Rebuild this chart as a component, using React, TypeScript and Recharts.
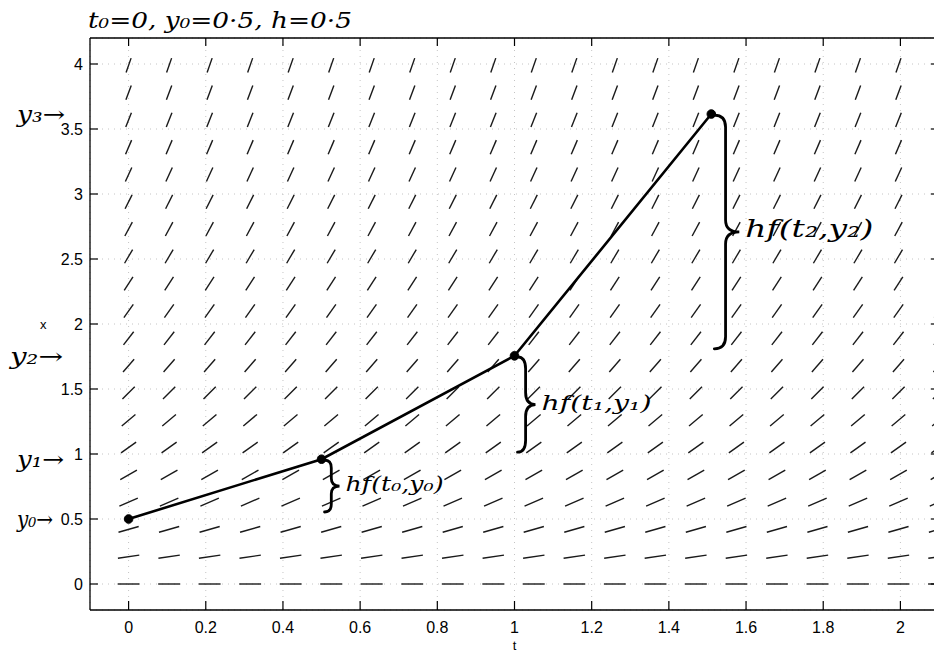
import {
  ComposedChart,
  Line,
  XAxis,
  YAxis,
  CartesianGrid,
  ReferenceLine,
} from "recharts";

// direction field grid
const gridT = [0, 0.105, 0.21, 0.315, 0.42, 0.525, 0.63, 0.735, 0.84, 0.945, 1.05, 1.155, 1.26, 1.365, 1.47, 1.575, 1.68, 1.785, 1.89, 1.995, 2.1];
const gridY = [0, 0.21, 0.42, 0.63, 0.84, 1.05, 1.26, 1.47, 1.68, 1.89, 2.1, 2.31, 2.52, 2.73, 2.94, 3.15, 3.36, 3.57, 3.78, 3.99];
// slope of the little segments in each row (same across a row)
const rowSlopes = [0, 0.43, 0.84, 1.27, 1.7, 2.1, 2.5, 2.95, 3.4, 3.8, 4.2, 4.6, 5.05, 5.5, 5.95, 6.5, 6.95, 7.45, 7.95, 8.5];

// Euler steps as drawn by hand
const eulerT = [0, 0.5, 1.0, 1.51];
const eulerY = [0.5, 0.96, 1.755, 3.615];

const xTicks = [0, 0.2, 0.4, 0.6, 0.8, 1, 1.2, 1.4, 1.6, 1.8, 2];
const yTicks = [0, 0.5, 1, 1.5, 2, 2.5, 3, 3.5, 4];

const stepLabels = ["hf(t₀,y₀)", "hf(t₁,y₁)", "hf(t₂,y₂)"];
const yLabels = ["y₀→", "y₁→", "y₂→", "y₃→"];
const title = "t₀=0, y₀=0·5, h=0·5";

const W = 950;
const H = 652;
const LEFT = 90;
const TOP = 38;
const PLOT_W = 849;
const PLOT_H = 572;
const T_MIN = -0.1;
const T_MAX = 2.1;
const Y_MIN = -0.2;
const Y_MAX = 4.2;

const tickFont = "'Liberation Sans', Arial, Helvetica, sans-serif";
const handFont = "'DejaVu Serif', serif";

const eulerData = eulerT.map((t, i) => ({ t, y: eulerY[i] }));

// segments normalised in grid-cell units, like dfield does
const cellT = gridT[1] - gridT[0];
const cellY = gridY[1] - gridY[0];
const HALF = 0.27;
const segments: { x1: number; y1: number; x2: number; y2: number }[] = [];
gridY.forEach((y, r) => {
  const s = rowSlopes[r];
  const u = 1 / cellT;
  const v = s / cellY;
  const n = Math.sqrt(u * u + v * v);
  const dt = (HALF * u * cellT) / n;
  const dy = (HALF * v * cellY) / n;
  gridT.forEach((t) => {
    segments.push({ x1: t - dt, y1: y - dy, x2: t + dt, y2: y + dy });
  });
});

const px = (t: number) => LEFT + ((t - T_MIN) / (T_MAX - T_MIN)) * PLOT_W;
const py = (y: number) => TOP + ((Y_MAX - y) / (Y_MAX - Y_MIN)) * PLOT_H;

const bracePath = (x0: number, yT: number, yB: number, w: number) => {
  const xs = x0 + w * 0.45;
  const ym = (yT + yB) / 2;
  const r = Math.min(12, (yB - yT) * 0.15);
  return `M${x0},${yT} Q${xs},${yT} ${xs},${yT + r} L${xs},${ym - r} Q${xs},${ym} ${x0 + w},${ym} Q${xs},${ym} ${xs},${ym + r} L${xs},${yB - r} Q${xs},${yB} ${x0},${yB}`;
};

const BottomTick = (props: any) => {
  const { x, y, payload } = props;
  return (
    <g>
      <line x1={x} y1={y} x2={x} y2={y - 9} stroke="#000" strokeWidth={1.2} />
      <text x={x} y={y + 23} textAnchor="middle" fontSize={16} fill="#000" fontFamily={tickFont}>
        {payload.value}
      </text>
    </g>
  );
};

const LeftTick = (props: any) => {
  const { x, y, payload } = props;
  return (
    <g>
      <line x1={x} y1={y} x2={x + 8} y2={y} stroke="#000" strokeWidth={1.2} />
      <text x={x - 7} y={y + 6} textAnchor="end" fontSize={16} fill="#000" fontFamily={tickFont}>
        {payload.value}
      </text>
    </g>
  );
};

const TopTick = (props: any) => {
  const { x, y } = props;
  return <line x1={x} y1={y} x2={x} y2={y + 8} stroke="#000" strokeWidth={1.2} />;
};

const RightTick = (props: any) => {
  const { x, y } = props;
  return <line x1={x} y1={y} x2={x - 8} y2={y} stroke="#000" strokeWidth={1.2} />;
};

const braceWidths = [15, 18, 25];
const labelSizes = [21, 21, 25];
const labelLengths = [98, 110, 128];
const yLabelLengths = [36, 47, 53, 48];

export default function App() {
  return (
    <div style={{ position: "absolute", left: 0, top: 0, width: 934, height: H, overflow: "hidden", background: "#fff" }}>
      <ComposedChart
        width={W}
        height={H}
        data={eulerData}
        margin={{ top: TOP - 1, right: W - LEFT - PLOT_W - 1, left: 0, bottom: 0 }}
      >
        <CartesianGrid stroke="#c4c4c4" strokeDasharray="1 5" strokeWidth={1} />
        <XAxis
          dataKey="t"
          type="number"
          domain={[T_MIN, T_MAX]}
          ticks={xTicks}
          allowDataOverflow
          height={H - TOP - PLOT_H}
          axisLine={{ stroke: "#000", strokeWidth: 1.3 }}
          tickLine={false}
          tickSize={0}
          tickMargin={0}
          tick={<BottomTick />}
          label={{ value: "t", position: "insideBottom", offset: 2, fontSize: 13, fill: "#000", fontFamily: tickFont }}
        />
        <XAxis
          xAxisId="top"
          orientation="top"
          dataKey="t"
          type="number"
          domain={[T_MIN, T_MAX]}
          ticks={xTicks}
          allowDataOverflow
          height={1}
          axisLine={{ stroke: "#000", strokeWidth: 1.3 }}
          tickLine={false}
          tickSize={0}
          tickMargin={0}
          tick={<TopTick />}
        />
        <YAxis
          type="number"
          domain={[Y_MIN, Y_MAX]}
          ticks={yTicks}
          allowDataOverflow
          width={LEFT}
          axisLine={{ stroke: "#000", strokeWidth: 1.3 }}
          tickLine={false}
          tickSize={0}
          tickMargin={0}
          tick={<LeftTick />}
          label={{ value: "x", position: "insideLeft", offset: 40, fontSize: 13, fill: "#000", fontFamily: tickFont }}
        />
        <YAxis
          yAxisId="right"
          orientation="right"
          type="number"
          domain={[Y_MIN, Y_MAX]}
          ticks={yTicks}
          allowDataOverflow
          width={1}
          axisLine={{ stroke: "#000", strokeWidth: 1.3 }}
          tickLine={false}
          tickSize={0}
          tickMargin={0}
          tick={<RightTick />}
        />
        {segments.map((s, i) => (
          <ReferenceLine
            key={i}
            segment={[
              { x: s.x1, y: s.y1 },
              { x: s.x2, y: s.y2 },
            ]}
            stroke="#1a1a1a"
            strokeWidth={1.4}
            ifOverflow="visible"
          />
        ))}
        <Line
          dataKey="y"
          type="linear"
          stroke="#000"
          strokeWidth={2.6}
          dot={{ r: 4.3, fill: "#000", stroke: "#000", strokeWidth: 1 }}
          isAnimationActive={false}
        />
      </ComposedChart>

      {/* hand-written notes on top of the plot */}
      <svg width={W} height={H} style={{ position: "absolute", left: 0, top: 0, pointerEvents: "none" }}>
        <text
          x={88}
          y={28}
          fontSize={22}
          fontFamily={handFont}
          fontStyle="italic"
          textLength={264}
          lengthAdjust="spacingAndGlyphs"
        >
          {title}
        </text>
        {eulerY.map((y, k) => (
          <text
            key={"yl" + k}
            x={k === 2 ? 10 : 17}
            y={py(y) + 8}
            fontSize={22}
            fontFamily={handFont}
            fontStyle="italic"
            textLength={yLabelLengths[k]}
            lengthAdjust="spacingAndGlyphs"
          >
            {yLabels[k]}
          </text>
        ))}
        {stepLabels.map((lab, k) => {
          const x0 = px(eulerT[k + 1]) + 3;
          const yT = py(eulerY[k + 1]) + 1;
          const yB = py(eulerY[k]) - 7;
          const w = braceWidths[k];
          const ym = (yT + yB) / 2;
          return (
            <g key={"b" + k}>
              <path d={bracePath(x0, yT, yB, w)} fill="none" stroke="#000" strokeWidth={2.8} strokeLinecap="round" />
              <text
                x={x0 + w + 6}
                y={ym + 5}
                fontSize={labelSizes[k]}
                fontFamily={handFont}
                fontStyle="italic"
                textLength={labelLengths[k]}
                lengthAdjust="spacingAndGlyphs"
              >
                {lab}
              </text>
            </g>
          );
        })}
      </svg>
    </div>
  );
}
